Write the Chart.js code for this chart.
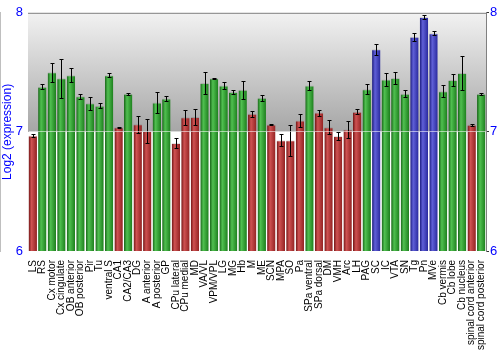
<!DOCTYPE html>
<html lang="en">
  <head>
    <meta charset="UTF-8" />
    <title>Log2 expression by region</title>
    <script src="https://cdn.jsdelivr.net/npm/chart.js"></script>
    <style>
      html, body { margin: 0; padding: 0; background: #ffffff; }
      #wrap { width: 500px; height: 350px; }
    </style>
  </head>
  <body>
    <div id="wrap"><canvas id="grafico"></canvas></div>
    <script>
      // brain regions (x axis)
      const regions = [
        "LS", "RS", "Cx motor", "Cx cingulate", "OB anterior", "OB posterior",
        "Pir", "Tu", "ventral S", "CA1", "CA2/CA3", "DG", "A anterior",
        "A posterior", "GP", "CPu lateral", "CPu medial", "MD", "VA/VL",
        "VPM/VPL", "LG", "MG", "Hb", "M", "ME", "SCN", "MPA", "SO", "Pa",
        "SPa ventral", "SPa dorsal", "DM", "VMH", "Arc", "LH", "PAG", "SC",
        "IC", "VTA", "SN", "Tg", "Pn", "MVe", "Cb vermis", "Cb lobe",
        "Cb nucleus", "spinal cord anterior", "spinal cord posterior",
      ];

      // mean log2 expression
      const expression = [
        6.97, 7.38, 7.5, 7.45, 7.475, 7.3,
        7.24, 7.22, 7.475, 7.04, 7.32, 7.065, 7.007,
        7.247, 7.28, 6.907, 7.123, 7.126, 7.41,
        7.45, 7.39, 7.334, 7.353, 7.153, 7.286, 7.062, 6.93, 6.93, 7.095,
        7.39, 7.162, 7.04, 6.965, 7.02, 7.17, 7.358, 7.693,
        7.441, 7.452, 7.32, 7.798, 7.964, 7.829, 7.342, 7.436,
        7.494, 7.06, 7.32,
      ];

      // error (+/-)
      const spread = [
        0.01, 0.02, 0.08, 0.165, 0.06, 0.02,
        0.055, 0.02, 0.017, 0.005, 0.007, 0.072, 0.1,
        0.09, 0.02, 0.04, 0.065, 0.065, 0.09,
        0.005, 0.03, 0.017, 0.077, 0.026, 0.025, 0.003, 0.052, 0.13, 0.055,
        0.037, 0.026, 0.06, 0.033, 0.072, 0.02, 0.04, 0.045,
        0.055, 0.052, 0.028, 0.033, 0.02, 0.017, 0.048, 0.05,
        0.144, 0.007, 0.007,
      ];

      // y ticks
      const yTicks = [6, 7, 8];
      // colour bands: below low = red, above high = blue
      const lowCut = 7.2;
      const highCut = 7.6;

      const red = ["#701414", "#cf5252", "#922222"];
      const green = ["#176417", "#50c050", "#1c7e1c"];
      const blue = ["#1a1a7c", "#6060d8", "#28289c"];
      const barPct = 0.88;
      const fuente = "'Liberation Sans', Arial, sans-serif";

      const paleta = (v) => (v < lowCut ? red : v < highCut ? green : blue);

      // build one horizontal gradient per bar once the x scale is laid out
      const degradados = {
        id: "degradados",
        afterLayout(chart) {
          const xs = chart.scales.x;
          const w = (xs.width / regions.length) * barPct;
          chart.$fills = regions.map((r, i) => {
            const pal = paleta(expression[i]);
            const cx = xs.getPixelForValue(i);
            if (!isFinite(cx) || !isFinite(w) || w <= 0) return pal[1];
            const g = chart.ctx.createLinearGradient(cx - w / 2, 0, cx + w / 2, 0);
            g.addColorStop(0, pal[0]);
            g.addColorStop(0.35, pal[1]);
            g.addColorStop(1, pal[2]);
            return g;
          });
        },
      };

      const barFill = (c) => {
        const fills = c.chart.$fills;
        if (fills && fills[c.dataIndex]) return fills[c.dataIndex];
        return paleta(expression[c.dataIndex])[1];
      };

      // gradient background + top frame line
      const fondo = {
        id: "fondo",
        beforeDraw(chart) {
          const { ctx, chartArea: a, scales } = chart;
          const y7 = scales.y.getPixelForValue(7);
          if (!isFinite(y7)) return;
          const g = ctx.createLinearGradient(0, a.top, 0, y7);
          g.addColorStop(0, "#f2f2f2");
          g.addColorStop(1, "#a6a6a6");
          ctx.save();
          ctx.fillStyle = g;
          ctx.fillRect(a.left, a.top, a.right - a.left, y7 - a.top);
          ctx.restore();
        },
        afterDraw(chart) {
          const { ctx, chartArea: a } = chart;
          ctx.save();
          ctx.strokeStyle = "#808080";
          ctx.lineWidth = 1;
          ctx.beginPath();
          ctx.moveTo(a.left, a.top + 0.5);
          ctx.lineTo(a.right, a.top + 0.5);
          ctx.stroke();
          ctx.restore();
        },
      };

      // error bars
      const barrasErro = {
        id: "barrasErro",
        afterDatasetsDraw(chart) {
          const { ctx, scales } = chart;
          const meta = chart.getDatasetMeta(0);
          ctx.save();
          ctx.strokeStyle = "#000000";
          ctx.lineWidth = 1;
          meta.data.forEach((bar, i) => {
            const x = Math.round(bar.x) + 0.5;
            const t = Math.round(scales.y.getPixelForValue(expression[i] + spread[i])) + 0.5;
            const b = Math.round(scales.y.getPixelForValue(expression[i] - spread[i])) + 0.5;
            ctx.beginPath();
            ctx.moveTo(x, t);
            ctx.lineTo(x, b);
            ctx.moveTo(x - 2, t);
            ctx.lineTo(x + 2, t);
            ctx.moveTo(x - 2, b);
            ctx.lineTo(x + 2, b);
            ctx.stroke();
          });
          ctx.restore();
        },
      };

      const gridSeven = (c) =>
        c.tick && c.tick.value === 7 ? "rgba(255,255,255,0.55)" : "rgba(0,0,0,0)";

      new Chart(document.getElementById("grafico"), {
        type: "bar",
        data: {
          labels: regions,
          datasets: [
            {
              data: expression,
              backgroundColor: barFill,
              borderColor: "rgba(0,0,0,0.12)",
              borderWidth: { top: 1, left: 0, right: 0, bottom: 0 },
              barPercentage: barPct,
              categoryPercentage: 1,
            },
          ],
        },
        options: {
          responsive: true,
          maintainAspectRatio: false,
          animation: false,
          layout: { padding: { top: 10, left: 0, right: 0, bottom: 0 } },
          plugins: { legend: { display: false }, tooltip: { enabled: false } },
          scales: {
            x: {
              grid: { display: false },
              border: { display: false },
              ticks: {
                autoSkip: false,
                minRotation: 90,
                maxRotation: 90,
                padding: 1,
                color: "#000000",
                font: { family: fuente, size: 10 },
              },
              afterFit(s) { s.height = 99; },
            },
            y: {
              position: "left",
              min: 6,
              max: 8,
              afterBuildTicks(s) { s.ticks = yTicks.map((v) => ({ value: v })); },
              grid: { color: gridSeven, z: 1, drawTicks: false },
              border: { color: "#808080" },
              ticks: {
                color: "#0000ff",
                padding: 5,
                font: { family: fuente, size: 13 },
              },
              title: {
                display: true,
                text: "Log2 (expression)",
                color: "#0000ff",
                padding: { top: 0, bottom: 0 },
                font: { family: fuente, size: 12 },
              },
              afterFit(s) { s.width = 28; },
            },
            y2: {
              position: "right",
              min: 6,
              max: 8,
              afterBuildTicks(s) { s.ticks = yTicks.map((v) => ({ value: v })); },
              grid: { drawOnChartArea: false, tickLength: 3, tickColor: "#333333" },
              border: { color: "#808080" },
              ticks: {
                color: "#0000ff",
                padding: 1,
                font: { family: fuente, size: 13 },
              },
              afterFit(s) { s.width = 14; },
            },
          },
        },
        plugins: [degradados, fondo, barrasErro],
      });
    </script>
  </body>
</html>
